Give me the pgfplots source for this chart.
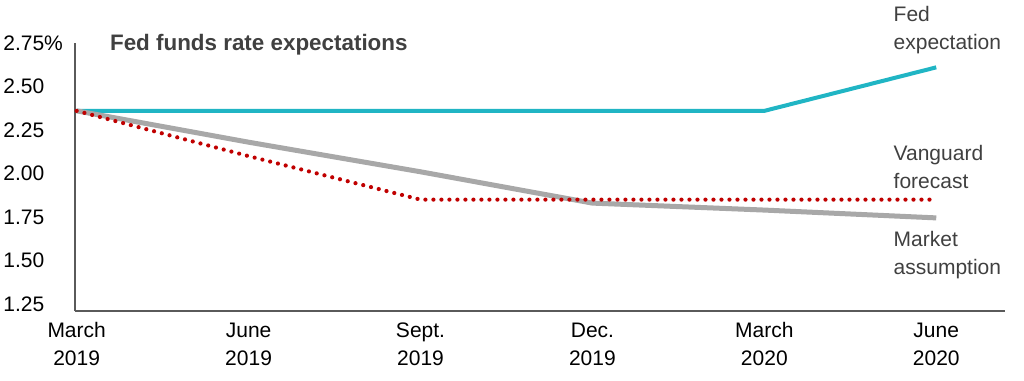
\documentclass[border=0pt]{standalone}
\usepackage{pgfplots}
\pgfplotsset{compat=1.18}
\usepackage{fontspec}
\setmainfont{Liberation Sans}
\definecolor{fedteal}{RGB}{32,181,196}
\definecolor{mktgray}{RGB}{168,168,168}
\definecolor{vgred}{RGB}{192,0,0}
\definecolor{axgray}{RGB}{90,90,90}
\definecolor{txtgray}{RGB}{64,64,64}
\begin{document}
\begin{tikzpicture}
\begin{axis}[
  scale only axis,
  width=465pt, height=134pt,
  xmin=-0.01, xmax=5.4,
  ymin=1.21, ymax=2.75,
  axis x line=bottom, axis y line=left,
  axis line style={axgray, line width=0.8pt, -},
  major tick length=0pt,
  xtick={0,1,2,3,4,5},
  xticklabels={\strut March\\\strut 2019, \strut June\\\strut 2019, \strut Sept.\\\strut 2019, \strut Dec.\\\strut 2019, \strut March\\\strut 2020, \strut June\\\strut 2020},
  xticklabel style={align=center, anchor=north, font=\fontsize{10.5}{14}\selectfont, text=black, inner sep=0pt, yshift=-3pt},
  ytick={1.25,1.5,1.75,2,2.25,2.5,2.75},
  yticklabels={1.25,1.50,1.75,2.00,2.25,2.50,2.75\%},
  yticklabel style={anchor=west, xshift=-36pt, inner sep=0pt, font=\fontsize{10.5}{14}\selectfont, text=black},
  clip=false,
]
\addplot[fedteal, line width=2pt] coordinates {(0,2.36) (1,2.36) (2,2.36) (3,2.36) (4,2.36) (5,2.61)};
\addplot[mktgray, line width=2.5pt] coordinates {(0,2.36) (1,2.18) (2,2.01) (3,1.83) (4,1.79) (5,1.745)};
\addplot[vgred, line width=2.1pt, line cap=round, dash pattern=on 0pt off 4pt] coordinates {(0,2.36) (1,2.10) (2,1.85) (3,1.85) (4,1.85) (5,1.85)};
\node[anchor=west, inner sep=0pt, font=\fontsize{11.2}{14}\selectfont\bfseries, text=txtgray] at (axis cs:0.192,2.739) {Fed funds rate expectations};
\node[anchor=west, align=left, inner sep=0pt, font=\fontsize{10.5}{14}\selectfont, text=txtgray] at (axis cs:4.75,2.822) {Fed\\expectation};
\node[anchor=west, align=left, inner sep=0pt, font=\fontsize{10.5}{14}\selectfont, text=txtgray] at (axis cs:4.75,2.037) {Vanguard\\forecast};
\node[anchor=west, align=left, inner sep=0pt, font=\fontsize{10.5}{14}\selectfont, text=txtgray] at (axis cs:4.75,1.529) {Market\\assumption};
\path (rel axis cs:-0.0806,-0.2575) rectangle (rel axis cs:1.0204,1.1604);
\end{axis}
\end{tikzpicture}
\end{document}
